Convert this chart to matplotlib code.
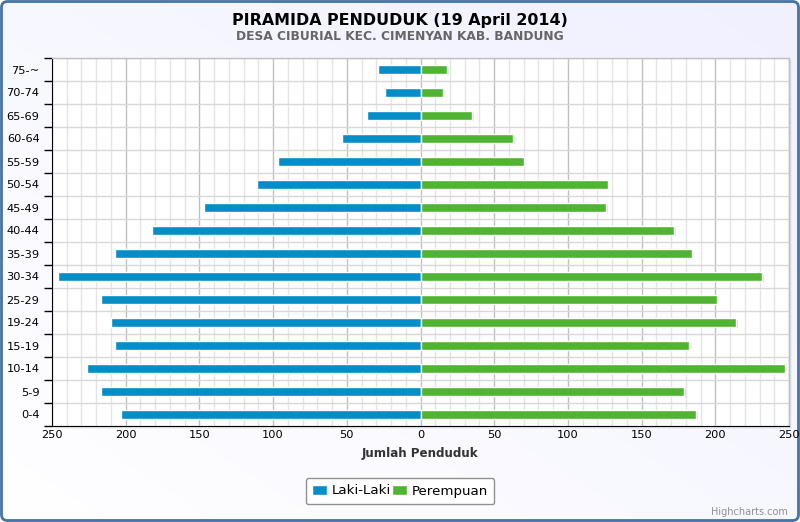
import numpy as np
import matplotlib
matplotlib.use("Agg")
import matplotlib.pyplot as plt
from matplotlib.patches import FancyBboxPatch, Rectangle
from matplotlib import patheffects as pe
from matplotlib.ticker import MultipleLocator, FixedLocator

# ---- data (bottom to top) ----
age_groups = ["0-4", "5-9", "10-14", "15-19", "19-24", "25-29", "30-34", "35-39",
              "40-44", "45-49", "50-54", "55-59", "60-64", "65-69", "70-74", "75-~"]
laki_laki = [203, 217, 226, 207, 210, 217, 246, 207, 182, 147, 111, 97, 53, 36, 24, 29]
perempuan = [187, 179, 247, 182, 214, 201, 232, 184, 172, 126, 127, 70, 63, 35, 15, 18]
x_ticks = [-250, -200, -150, -100, -50, 0, 50, 100, 150, 200, 250]

title = "PIRAMIDA PENDUDUK (19 April 2014)"
subtitle = "DESA CIBURIAL KEC. CIMENYAN KAB. BANDUNG"
xlabel = "Jumlah Penduduk"
series_names = ["Laki-Laki", "Perempuan"]
colors = ["#058DC7", "#50B432"]

W, H = 800, 522
fig = plt.figure(figsize=(W / 100, H / 100), dpi=100)
fig.patch.set_facecolor("white")

# background with gradient and rounded border
bg = fig.add_axes([0, 0, 1, 1], zorder=-10)
bg.set_xlim(0, W); bg.set_ylim(0, H); bg.axis("off")
gx, gy = np.meshgrid(np.linspace(0, 1, 200), np.linspace(0, 1, 200))
t = (gx + (1 - gy)) / 2
grad = np.zeros((200, 200, 3))
grad[..., 0] = 1 - t * (15 / 255)
grad[..., 1] = 1 - t * (15 / 255)
grad[..., 2] = 1.0
im = bg.imshow(grad, extent=[0, W, 0, H], origin="upper", aspect="auto", zorder=0)
border = FancyBboxPatch((1.5, 1.5), W - 3, H - 3, boxstyle="round,pad=0,rounding_size=6",
                        facecolor="none", edgecolor="#4572A7", linewidth=2, zorder=2)
bg.add_patch(border)
clip = FancyBboxPatch((1.5, 1.5), W - 3, H - 3, boxstyle="round,pad=0,rounding_size=6",
                      facecolor="none", edgecolor="none", transform=bg.transData)
bg.add_patch(clip)
im.set_clip_path(clip)

# plot area shadow
L, R, T, B = 52, 789, 58, 426
for i, a in enumerate([0.10, 0.06, 0.03]):
    bg.add_patch(Rectangle((L + 1 + i, H - B - 1 - i), R - L, B - T,
                           facecolor="black", alpha=a, edgecolor="none", zorder=1))

ax = fig.add_axes([L / W, 1 - B / H, (R - L) / W, (B - T) / H])
ax.set_facecolor("white")

y = np.arange(len(age_groups))
bh = 0.36
shadow = [pe.SimplePatchShadow(offset=(1.2, -1.2), shadow_rgbFace="black", alpha=0.12), pe.Normal()]
b1 = ax.barh(y, [-v for v in laki_laki], height=bh, color=colors[0], edgecolor="white",
             linewidth=1, zorder=3, label=series_names[0])
b2 = ax.barh(y, perempuan, height=bh, color=colors[1], edgecolor="white",
             linewidth=1, zorder=3, label=series_names[1])
for p in list(b1) + list(b2):
    p.set_path_effects(shadow)

ax.set_xlim(-250, 250)
ax.set_ylim(-0.5, len(age_groups) - 0.5)

ax.xaxis.set_major_locator(FixedLocator(x_ticks))
ax.xaxis.set_minor_locator(MultipleLocator(10))
ax.set_xticklabels([str(abs(v)) for v in x_ticks])
ax.grid(axis="x", which="major", color="#C0C0C0", linewidth=1, zorder=0)
ax.grid(axis="x", which="minor", color="#E4E4E4", linewidth=1, zorder=0)

ax.set_yticks(y)
ax.set_yticklabels(age_groups)
ax.yaxis.set_minor_locator(FixedLocator(np.arange(-0.5, len(age_groups), 1)))
ax.grid(axis="y", which="minor", color="#D8D8D8", linewidth=1, zorder=0)
ax.set_axisbelow(True)

ax.tick_params(axis="y", which="major", length=0, labelsize=8.2, pad=9, labelcolor="#000")
ax.tick_params(axis="y", which="minor", length=6, width=1, color="#000")
ax.tick_params(axis="x", which="both", length=0, labelsize=8.2, pad=3, labelcolor="#000")

for s in ["top", "right"]:
    ax.spines[s].set_color("#C0C0C0")
    ax.spines[s].set_linewidth(1)
ax.spines["left"].set_color("#000")
ax.spines["bottom"].set_color("#000")

# titles
fig.text(400 / W, 1 - 20 / H, title, ha="center", va="center", fontsize=11.4,
         fontweight="bold", color="#000")
fig.text(400 / W, 1 - 36 / H, subtitle, ha="center", va="center", fontsize=8.8,
         fontweight="bold", color="#666666")
fig.text(420 / W, 1 - 454 / H, xlabel, ha="center", va="center", fontsize=8.6,
         fontweight="bold", color="#333333")

# legend
leg = ax.legend(handles=[b1, b2], loc="center", bbox_to_anchor=(400 / W, 1 - 491 / H),
                bbox_transform=fig.transFigure, ncol=2, frameon=True, fontsize=9.6,
                handlelength=1.1, handleheight=0.85, handletextpad=0.35, columnspacing=0.1,
                borderpad=0.5, fancybox=True, edgecolor="#909090", facecolor="white")
leg.get_frame().set_linewidth(1)
leg.get_frame().set_alpha(1)
for h in leg.legend_handles:
    h.set_path_effects([])

fig.text(788 / W, 1 - 512 / H, "Highcharts.com", ha="right", va="center",
         fontsize=7, color="#909090")

fig.savefig("out.png", dpi=100)
